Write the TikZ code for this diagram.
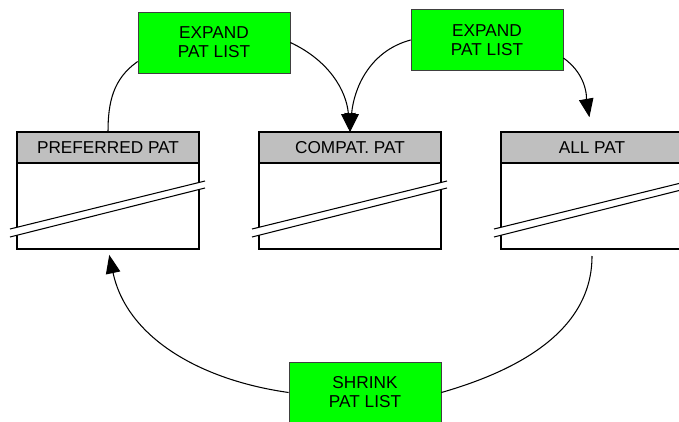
\documentclass[tikz,border=0pt]{standalone}
\usepackage{fontspec}
\setmainfont{Liberation Sans}
\usetikzlibrary{positioning,arrows.meta,calc}

\begin{document}
\begin{tikzpicture}[
  >={Triangle[length=3.7mm, width=2.9mm]},
  font=\fontsize{9.8}{10.8}\selectfont,
  hdr/.style={draw, line width=0.7pt, fill=black!25, minimum width=3.64cm,
              minimum height=0.62cm, inner sep=0pt, outer sep=0pt},
  body/.style={draw, line width=0.7pt, fill=white, minimum width=3.64cm,
               minimum height=1.72cm, inner sep=0pt, outer sep=0pt},
  op/.style={draw=black!75, fill=green, minimum width=3.04cm, minimum height=1.22cm,
             align=center, inner sep=0pt},
  link/.style={line width=0.6pt}]
  \useasboundingbox (0,0) rectangle (13.58,8.42);
  % pattern lists
  \node[hdr] (prefH) at (2.16,5.47) {PREFERRED PAT};
  \node[hdr, right=1.2cm of prefH] (compH) {COMPAT. PAT};
  \node[hdr, right=1.2cm of compH] (allH) {ALL PAT};
  \node[body, below=0pt of prefH] (prefB) {};
  \node[body, below=0pt of compH] (compB) {};
  \node[body, below=0pt of allH] (allB) {};
  % break marks
  \foreach \b in {prefB, compB, allB} {
    \fill[white] ($(\b.south west)+(-0.14,0.24)$) -- ($(\b.south east)+(0.12,1.22)$)
      -- ($(\b.south east)+(0.12,1.36)$) -- ($(\b.south west)+(-0.14,0.40)$) -- cycle;
    \draw[link] ($(\b.south west)+(-0.14,0.24)$) -- ($(\b.south east)+(0.12,1.22)$);
    \draw[link] ($(\b.south west)+(-0.14,0.40)$) -- ($(\b.south east)+(0.12,1.36)$);
  }
  % operations
  \node[op] (expA) at (4.28,7.57) {EXPAND\\PAT LIST};
  \node[op] (expB) at (9.74,7.62) {EXPAND\\PAT LIST};
  \node[op] (shrink) at (7.30,0.57) {SHRINK\\PAT LIST};
  \draw[link] (expA.194) to[out=215, in=90] (prefH.north);
  \draw[link, ->] (expA.east) to[out=-25, in=95] (compH.north);
  \draw[link, ->] (expB.west) to[out=195, in=85] (compH.north);
  \draw[link, ->, shorten >=0.3cm] ($(expB.east)+(0,-0.36)$) to[out=-35, in=100] (allH.north);
  \draw[link, shorten <=0.14cm] (allB.south) to[out=-90, in=16] (shrink.east);
  \draw[link, ->, shorten >=0.12cm] (shrink.west) to[out=172, in=-78] (prefB.south);
\end{tikzpicture}
\end{document}
